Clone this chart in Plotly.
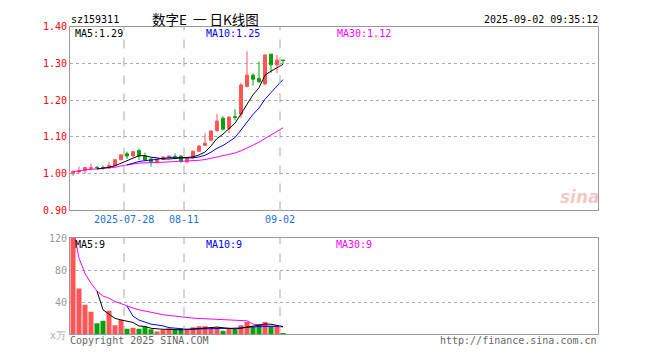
import math
import plotly.graph_objects as go

# ---------------- data ----------------
dates = ["2025-07-15", "2025-07-16", "2025-07-17", "2025-07-18", "2025-07-21", "2025-07-22",
         "2025-07-23", "2025-07-24", "2025-07-25", "2025-07-28", "2025-07-29", "2025-07-30",
         "2025-07-31", "2025-08-01", "2025-08-04", "2025-08-05", "2025-08-06", "2025-08-07",
         "2025-08-08", "2025-08-11", "2025-08-12", "2025-08-13", "2025-08-14", "2025-08-15",
         "2025-08-18", "2025-08-19", "2025-08-20", "2025-08-21", "2025-08-22", "2025-08-25",
         "2025-08-26", "2025-08-27", "2025-08-28", "2025-08-29", "2025-09-01", "2025-09-02"]

opens = [1.000, 1.005, 1.009, 1.014, 1.017, 1.017, 1.016, 1.022, 1.038, 1.054, 1.048, 1.063,
         1.048, 1.040, 1.030, 1.039, 1.044, 1.046, 1.048, 1.032, 1.045, 1.061, 1.077, 1.091,
         1.117, 1.151, 1.123, 1.155, 1.162, 1.237, 1.268, 1.259, 1.244, 1.325, 1.296, 1.309]
highs = [1.009, 1.019, 1.018, 1.028, 1.021, 1.022, 1.032, 1.040, 1.053, 1.060, 1.062, 1.068,
         1.057, 1.042, 1.041, 1.048, 1.050, 1.055, 1.050, 1.044, 1.063, 1.078, 1.110, 1.118,
         1.162, 1.156, 1.156, 1.175, 1.247, 1.333, 1.272, 1.305, 1.323, 1.325, 1.323, 1.309]
lows = [0.994, 1.000, 1.000, 1.009, 1.012, 1.011, 1.013, 1.020, 1.036, 1.040, 1.045, 1.037,
        1.035, 1.019, 1.028, 1.037, 1.042, 1.039, 1.030, 1.028, 1.040, 1.059, 1.075, 1.088,
        1.114, 1.118, 1.110, 1.145, 1.151, 1.235, 1.239, 1.247, 1.240, 1.274, 1.274, 1.298]
closes = [1.006, 1.008, 1.017, 1.016, 1.016, 1.016, 1.022, 1.038, 1.051, 1.048, 1.060, 1.048,
          1.037, 1.031, 1.039, 1.045, 1.048, 1.044, 1.033, 1.042, 1.061, 1.075, 1.083, 1.116,
          1.143, 1.121, 1.154, 1.153, 1.241, 1.268, 1.257, 1.250, 1.323, 1.296, 1.309, 1.308]
volumes = [133, 57, 36.8, 28, 13.6, 16.8, 29.2, 11.2, 18, 6.8, 8, 6.8, 9.2, 6, 3.2, 5.2,
           7.2, 5.2, 6.4, 5.2, 8.8, 10, 10, 7.2, 8.4, 4.4, 6.8, 6, 11.2, 15.2, 9.2, 12.4,
           15.2, 10, 9.2, 0.8]

date_labels = {"2025-07-28": "2025-07-28", "2025-08-11": "08-11", "2025-09-02": "09-02"}
price_ticks = [0.90, 1.00, 1.10, 1.20, 1.30, 1.40]
vol_ticks = [40, 80, 120]

code = "sz159311"
title = "数字E\u00a0\u00a0一\u00a0日K线图"
stamp = "2025-09-02 09:35:12"

# ---------------- helpers ----------------
W, H = 660, 360
RED = "#ff5555"
GREEN = "#0aa00a"
FONT = "DejaVu Sans Mono"


def px(x):
    return x / W


def py(y):
    return 1 - y / H


def ma(vals, n, cumulative=False):
    out = []
    for i in range(len(vals)):
        if i + 1 < n:
            out.append(sum(vals[:i + 1]) / (i + 1) if cumulative else None)
        else:
            out.append(sum(vals[i + 1 - n:i + 1]) / n)
    return out


def trunc(v, d):
    f = 10 ** d
    return math.floor(v * f + 1e-9) / f


idx = list(range(len(dates)))
pma5, pma10, pma30 = ma(closes, 5), ma(closes, 10), ma(closes, 30, True)
vma5, vma10, vma30 = ma(volumes, 5), ma(volumes, 10), ma(volumes, 30, True)
vcolors = [RED if c >= o else GREEN for o, c in zip(opens, closes)]

# panel geometry (pixels)
X0, X1 = 70, 598
P_TOP, P_BOT = 21.3, 211.5
V_TOP, V_BOT = 240, 339.5

fig = go.Figure()
fig.add_trace(go.Candlestick(
    x=idx, open=opens, high=highs, low=lows, close=closes,
    increasing=dict(line=dict(color=RED, width=1), fillcolor=RED),
    decreasing=dict(line=dict(color=GREEN, width=1), fillcolor=GREEN),
    xaxis="x", yaxis="y", showlegend=False, hoverinfo="skip"))
for vals, col in [(pma30, "#ff00ff"), (pma10, "#0000ff"), (pma5, "#000000")]:
    fig.add_trace(go.Scatter(x=idx, y=vals, mode="lines", line=dict(color=col, width=1),
                             xaxis="x", yaxis="y", showlegend=False, hoverinfo="skip"))

fig.add_trace(go.Bar(x=idx, y=volumes, marker=dict(color=vcolors, line=dict(width=0)),
                     width=0.84, xaxis="x2", yaxis="y2", showlegend=False, hoverinfo="skip"))
for vals, col in [(vma30, "#ff00ff"), (vma10, "#0000ff"), (vma5, "#000000")]:
    fig.add_trace(go.Scatter(x=idx, y=vals, mode="lines", line=dict(color=col, width=1),
                             xaxis="x2", yaxis="y2", showlegend=False, hoverinfo="skip",
                             cliponaxis=True))

xr = [-0.5, (X1 - X0) / 6 - 0.5]
axis_line = dict(showline=True, linecolor="#999999", linewidth=1, mirror=True)
fig.update_layout(
    width=W, height=H, autosize=False,
    margin=dict(l=0, r=0, t=0, b=0),
    paper_bgcolor="white", plot_bgcolor="white",
    font=dict(family=FONT, size=10),
    xaxis=dict(domain=[px(X0), px(X1)], range=xr, showticklabels=False, showgrid=False,
               zeroline=False, rangeslider=dict(visible=False), anchor="y", ticks="",
               **axis_line),
    yaxis=dict(domain=[py(P_BOT), py(P_TOP)], range=[0.90, 1.40], tickvals=price_ticks,
               ticktext=[f"{v:.2f}" for v in price_ticks],
               tickfont=dict(color="#ff0000", size=10, family=FONT),
               showgrid=True, gridcolor="#aaaaaa", griddash="dot", gridwidth=1,
               zeroline=False, ticks="", anchor="x", **axis_line),
    xaxis2=dict(domain=[px(X0), px(X1)], range=xr, showticklabels=False, showgrid=False,
                zeroline=False, anchor="y2", matches="x", ticks="", **axis_line),
    yaxis2=dict(domain=[py(V_BOT), py(V_TOP)], range=[0, 120], tickvals=vol_ticks,
                tickfont=dict(color="#999999", size=10, family=FONT),
                showgrid=True, gridcolor="#aaaaaa", griddash="dot", gridwidth=1,
                zeroline=False, ticks="", anchor="x2", **axis_line),
    bargap=0.1,
)

shapes = []
annotations = []
for i, d in enumerate(dates):
    if d in date_labels:
        xv = i - 0.5
        for top, bot in [(P_TOP, P_BOT), (V_TOP, V_BOT)]:
            shapes.append(dict(type="line", xref="x", yref="paper", x0=xv, x1=xv,
                               y0=py(bot), y1=py(top),
                               line=dict(color="#aaaaaa", width=1, dash="dash"), layer="above"))
        annotations.append(dict(xref="x", yref="paper", x=xv, y=py(221), text=date_labels[d],
                                showarrow=False, xanchor="center", yanchor="middle", borderpad=0,
                                font=dict(color="#1f6fd8", size=10, family=FONT)))


def txt(x, y, text, color="#000000", size=10, anchor="left", family=FONT):
    annotations.append(dict(xref="paper", yref="paper", x=px(x), y=py(y), text=text,
                            showarrow=False, xanchor=anchor, yanchor="middle", borderpad=0,
                            font=dict(color=color, size=size, family=family)))


txt(70, 14, code)
txt(151, 13.5, title, size=13.5, family="Noto Sans CJK SC")
txt(599, 14, stamp, anchor="right")

txt(74, 28.5, f"MA5:{trunc(pma5[-1], 2):.2f}")
txt(205, 28.5, f"MA10:{trunc(pma10[-1], 2):.2f}", color="#0000ff")
txt(336, 28.5, f"MA30:{trunc(pma30[-1], 2):.2f}", color="#ff00ff")

txt(74, 247, f"MA5:{int(trunc(vma5[-1], 0))}")
txt(205, 247, f"MA10:{int(trunc(vma10[-1], 0))}", color="#0000ff")
txt(335, 247, f"MA30:{int(trunc(vma30[-1], 0))}", color="#ff00ff")

txt(49, 341, "x万", color="#aaaaaa", size=10)
txt(69, 346, "Copyright 2025 SINA.COM", color="#666666")
txt(598, 346, "http://finance.sina.com.cn", color="#666666", anchor="right")

annotations.append(dict(xref="paper", yref="paper", x=px(580), y=py(198), text="<b><i>sina</i></b>",
                        showarrow=False, xanchor="center", yanchor="middle",
                        font=dict(color="rgba(225,90,90,0.35)", size=17, family="DejaVu Sans")))

fig.update_layout(shapes=shapes, annotations=annotations)
fig.write_html("out.html", config={"displayModeBar": False},
               post_script="document.body.style.margin='0';")
